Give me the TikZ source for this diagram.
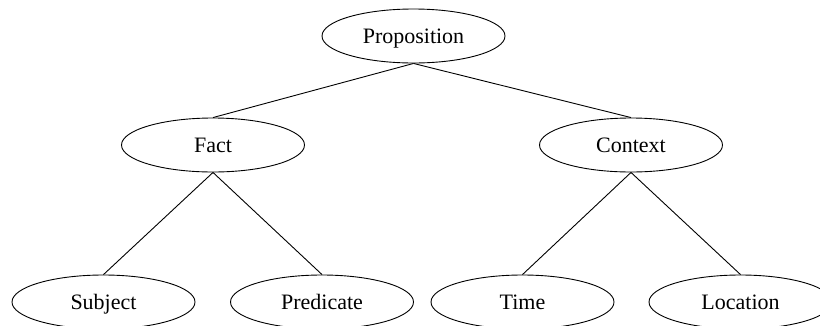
\documentclass[tikz,border=0pt]{standalone}
\usepackage{fontspec}
\setmainfont{Liberation Serif}
\usetikzlibrary{shapes.geometric}
\begin{document}
\begin{tikzpicture}[x=1pt,y=1pt,
  nodebox/.style={draw, ellipse, minimum width=183pt, minimum height=54pt, inner sep=0pt, text height=14.5pt, text depth=0pt, line width=0.9pt, font=\fontsize{22}{24}\selectfont},
  edge/.style={line width=0.9pt}]
\clip (0,0) rectangle (820,-325);
\useasboundingbox (0,0) rectangle (820,-325);
\node[nodebox] (prop) at (413.5,-36) {Proposition};
\node[nodebox] (fact) at (213,-145) {Fact};
\node[nodebox] (ctx) at (631,-145) {Context};
\node[nodebox] (subj) at (103.5,-302) {Subject};
\node[nodebox] (pred) at (322,-302) {Predicate};
\node[nodebox] (time) at (522.5,-302) {Time};
\node[nodebox] (loc) at (740.5,-302) {Location};
\draw[edge] (prop.south) -- (fact.north);
\draw[edge] (prop.south) -- (ctx.north);
\draw[edge] (fact.south) -- (subj.north);
\draw[edge] (fact.south) -- (pred.north);
\draw[edge] (ctx.south) -- (time.north);
\draw[edge] (ctx.south) -- (loc.north);
\end{tikzpicture}
\end{document}
